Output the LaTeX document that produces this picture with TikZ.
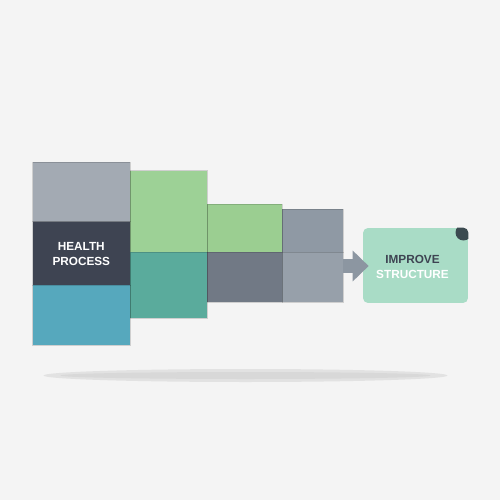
\documentclass[tikz,border=0pt]{standalone}
\usepackage{fontspec}
\setmainfont{Liberation Sans}
\usepackage{xcolor}
\usepackage{tikz}
\usetikzlibrary{arrows.meta}
\definecolor{bgpaper}{HTML}{F4F4F4}
\definecolor{slatelight}{HTML}{A3AAB3}
\definecolor{slatedark}{HTML}{3E4452}
\definecolor{seablue}{HTML}{56A8BD}
\definecolor{leafgreen}{HTML}{9DD196}
\definecolor{tealgreen}{HTML}{5AAB9C}
\definecolor{leafgreentwo}{HTML}{9BCE91}
\definecolor{slatemid}{HTML}{717985}
\definecolor{slatecool}{HTML}{8F99A4}
\definecolor{slatesoft}{HTML}{97A0AA}
\definecolor{arrowgray}{HTML}{8C96A1}
\definecolor{mintbox}{HTML}{A9DCC6}
\definecolor{cornerdark}{HTML}{3B4A50}
\definecolor{shadowout}{HTML}{E2E2E2}
\definecolor{shadowin}{HTML}{D8D8D8}
\tikzset{
  block/.style={draw=black,draw opacity=0.15,line width=0.3pt},
  label text/.style={font=\bfseries\fontsize{6.7}{8.1}\selectfont,align=center}
}

\begin{document}
\begin{tikzpicture}[x=0.02cm,y=-0.02cm]
  \fill[bgpaper] (0,0) rectangle (500,500);
  \useasboundingbox (0,0) rectangle (500,500);
  % floor shadow
  \fill[shadowout] (245.5,375.5) ellipse (4.04cm and 0.13cm);
  \fill[shadowin] (245.5,375.5) ellipse (3.7cm and 0.07cm);
  % steps, right to left
  \fill[block,fill=slatecool] (282.3,209) rectangle (343.3,252.3);
  \fill[block,fill=slatesoft] (282.3,252.3) rectangle (343.3,302.3);
  \fill[block,fill=leafgreentwo] (207.3,204.3) rectangle (282.3,252.3);
  \fill[block,fill=slatemid] (207.3,252.3) rectangle (282.3,302.3);
  \fill[block,fill=leafgreen] (130,170.7) rectangle (207.3,252.3);
  \fill[block,fill=tealgreen] (130,252.3) rectangle (207.3,318.3);
  \fill[block,fill=slatelight] (32.7,162.3) rectangle (130,221.7);
  \fill[block,fill=slatedark] (32.7,221.7) rectangle (130,285);
  \fill[block,fill=seablue] (32.7,285) rectangle (130,345);
  \node[label text,text=white] (health) at (81.3,254) {HEALTH\\PROCESS};
  % result box
  \node[fill=mintbox,rounded corners=0.1cm,minimum width=2.1cm,minimum height=1.5cm] (improve) at (415.5,265.5) {};
  \begin{scope}
    \clip[rounded corners=0.1cm] (improve.south west) rectangle (improve.north east);
    \fill[cornerdark] (463.5,232.5) circle (0.16cm);
  \end{scope}
  \node[label text] (improvetext) at (412.5,267) {\textcolor{slatedark}{IMPROVE}\\\textcolor{white}{STRUCTURE}};
  \coordinate (stepend) at (343.3,266);
  \draw[arrowgray,line width=0.28cm,-{Triangle[length=0.32cm,width=0.6cm]},shorten >=-0.12cm] (stepend) -- (improve.west |- stepend);
\end{tikzpicture}
\end{document}
